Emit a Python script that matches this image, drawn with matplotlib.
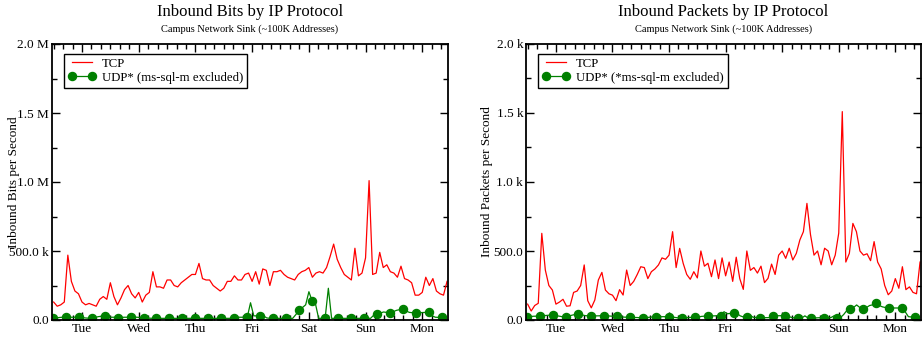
import numpy as np
import matplotlib
matplotlib.use("Agg")
import matplotlib.pyplot as plt
from matplotlib.ticker import MultipleLocator, FixedLocator

plt.rcParams['font.family'] = ['Liberation Serif', 'DejaVu Serif']

# ---------------- data ----------------
# hours relative to Tuesday 00:00
tcp_start, tcp_step = -12.0, 1.5
udp_start, udp_step = -12.4, 1.3725
day_labels = ["Tue", "Wed", "Thu", "Fri", "Sat", "Sun", "Mon"]

# Inbound bits per second, TCP (Mbit/s)
tcp_bits = [
    0.13, 0.10, 0.11, 0.13, 0.47, 0.28, 0.21, 0.19, 0.13, 0.11,
    0.12, 0.11, 0.10, 0.15, 0.17, 0.15, 0.27, 0.17, 0.11, 0.16,
    0.22, 0.25, 0.19, 0.16, 0.20, 0.13, 0.18, 0.20, 0.35, 0.24,
    0.24, 0.23, 0.29, 0.29, 0.25, 0.24, 0.27, 0.29, 0.31, 0.33,
    0.33, 0.41, 0.30, 0.29, 0.29, 0.25, 0.23, 0.21, 0.23, 0.28,
    0.28, 0.32, 0.29, 0.29, 0.33, 0.34, 0.28, 0.35, 0.26, 0.37,
    0.36, 0.25, 0.35, 0.35, 0.36, 0.33, 0.31, 0.30, 0.29, 0.33,
    0.35, 0.36, 0.38, 0.31, 0.34, 0.35, 0.34, 0.38, 0.46, 0.55,
    0.44, 0.38, 0.33, 0.31, 0.29, 0.52, 0.32, 0.34, 0.45, 1.01,
    0.33, 0.34, 0.49, 0.38, 0.40, 0.35, 0.34, 0.31, 0.39, 0.30,
    0.29, 0.27, 0.18, 0.18, 0.20, 0.31, 0.25, 0.30, 0.21, 0.19,
    0.18, 0.28,
]

# Inbound bits per second, UDP* (Mbit/s)
udp_bits = [
    0.012, 0.015, 0.018, 0.020, 0.021, 0.020, 0.020, 0.020,
    0.021, 0.018, 0.015, 0.013, 0.012, 0.018, 0.024, 0.027,
    0.029, 0.025, 0.020, 0.020, 0.018, 0.018, 0.020, 0.020,
    0.021, 0.020, 0.020, 0.018, 0.018, 0.015, 0.013, 0.012,
    0.012, 0.012, 0.012, 0.012, 0.012, 0.012, 0.012, 0.012,
    0.013, 0.012, 0.012, 0.012, 0.012, 0.012, 0.012, 0.012,
    0.012, 0.012, 0.012, 0.012, 0.012, 0.012, 0.012, 0.012,
    0.018, 0.020, 0.020, 0.020, 0.021, 0.125, 0.030, 0.030,
    0.030, 0.030, 0.015, 0.012, 0.012, 0.012, 0.012, 0.012,
    0.012, 0.012, 0.012, 0.040, 0.072, 0.090, 0.110, 0.205,
    0.138, 0.120, 0.012, 0.012, 0.012, 0.230, 0.012, 0.012,
    0.012, 0.012, 0.012, 0.012, 0.012, 0.012, 0.012, 0.012,
    0.012, 0.012, 0.012, 0.035, 0.043, 0.050, 0.058, 0.055,
    0.053, 0.060, 0.070, 0.075, 0.077, 0.065, 0.055, 0.053,
    0.053, 0.054, 0.054, 0.055, 0.055, 0.030, 0.020, 0.019,
    0.019, 0.019,
]

# Inbound packets per second, TCP
tcp_pkts = [
    115, 65, 105, 121, 628, 362, 250, 217, 115, 130,
    150, 100, 103, 200, 210, 250, 399, 140, 88, 145,
    290, 345, 217, 190, 180, 140, 220, 181, 362, 250,
    280, 330, 386, 380, 300, 350, 370, 399, 450, 440,
    470, 640, 380, 519, 410, 330, 295, 350, 305, 500,
    390, 411, 314, 435, 300, 450, 320, 420, 280, 455,
    300, 222, 500, 360, 380, 340, 390, 271, 302, 405,
    330, 470, 500, 447, 520, 435, 483, 580, 640, 845,
    620, 470, 500, 400, 520, 500, 400, 470, 630, 1510,
    420, 483, 700, 640, 500, 470, 480, 430, 568, 420,
    370, 250, 183, 210, 300, 230, 386, 220, 240, 200,
    190, 420,
]

# Inbound packets per second, UDP*
udp_pkts = [
    22, 25, 27, 28, 29, 31, 33, 35, 36, 32, 28, 24,
    22, 28, 35, 40, 43, 38, 32, 30, 29, 30, 30, 31,
    31, 30, 28, 27, 27, 24, 21, 20, 19, 18, 18, 17,
    17, 18, 20, 22, 22, 23, 24, 24, 24, 22, 18, 15,
    14, 16, 18, 19, 19, 22, 26, 28, 29, 30, 30, 31,
    31, 60, 45, 48, 48, 48, 30, 22, 22, 35, 20, 18,
    17, 17, 17, 17, 31, 31, 31, 31, 31, 25, 18, 14,
    14, 14, 30, 14, 14, 15, 16, 17, 17, 17, 17, 30,
    17, 17, 40, 70, 77, 90, 109, 90, 77, 90, 105, 110,
    121, 105, 95, 90, 87, 87, 87, 87, 87, 60, 24, 22,
    22, 22,
]

# ---------------- plotting ----------------
RED = "#ff0000"
GREEN = "#008000"

fig = plt.figure(figsize=(9.24, 3.40), dpi=100)

panels = [
    dict(rect=[52/924, 20/340, 396/924, 276/340], tcp=tcp_bits, udp=udp_bits,
         ymax=2.0, yticks=[0, 0.5, 1.0, 1.5, 2.0],
         ylabels=["0.0", "500.0 k", "1.0 M", "1.5 M", "2.0 M"],
         title="Inbound Bits by IP Protocol",
         ylab="Inbound Bits per Second",
         udp_label="UDP* (ms-sql-m excluded)", ylab_x=14/924),
    dict(rect=[526/924, 20/340, 395/924, 276/340], tcp=tcp_pkts, udp=udp_pkts,
         ymax=2000, yticks=[0, 500, 1000, 1500, 2000],
         ylabels=["0.0", "500.0", "1.0 k", "1.5 k", "2.0 k"],
         title="Inbound Packets by IP Protocol",
         ylab="Inbound Packets per Second",
         udp_label="UDP* (*ms-sql-m excluded)", ylab_x=487/924),
]

for p in panels:
    ax = fig.add_axes(p["rect"])
    t_tcp = tcp_start + tcp_step * np.arange(len(p["tcp"]))
    t_udp = udp_start + udp_step * np.arange(len(p["udp"]))
    ax.plot(t_tcp, p["tcp"], color=RED, lw=0.9, label="TCP")
    ax.plot(t_udp, p["udp"], color=GREEN, lw=0.9, marker="o", ms=5.8,
            markevery=4, label=p["udp_label"])
    ax.set_xlim(-12.7, 154.9)
    ax.set_ylim(0, p["ymax"])

    ax.xaxis.set_major_locator(FixedLocator([24 * i for i in range(7)]))
    ax.set_xticklabels(day_labels)
    ax.xaxis.set_minor_locator(MultipleLocator(4))
    ax.set_yticks(p["yticks"])
    ax.set_yticklabels(p["ylabels"])
    ax.yaxis.set_minor_locator(MultipleLocator(p["ymax"] / 8))

    ax.tick_params(which="both", direction="in", top=True, right=True,
                   labelsize=9.5, width=1.0, color="black", pad=2)
    ax.tick_params(which="major", length=6)
    ax.tick_params(which="minor", length=3.5)
    for s in ax.spines.values():
        s.set_linewidth(1.3)

    leg = ax.legend(loc="upper left", bbox_to_anchor=(0.03, 0.964),
                    borderaxespad=0, fontsize=9.2, fancybox=False,
                    framealpha=1, edgecolor="black", handlelength=2.2,
                    handletextpad=0.5, borderpad=0.3, labelspacing=0.15,
                    numpoints=2)
    leg.get_frame().set_linewidth(1.0)

    cx = p["rect"][0] + p["rect"][2] / 2
    fig.text(cx, 1 - 12/340, p["title"], ha="center", va="center", fontsize=12)
    fig.text(cx, 1 - 29/340, "Campus Network Sink (~100K Addresses)",
             ha="center", va="center", fontsize=7.5)
    fig.text(p["ylab_x"], 1 - 182/340, p["ylab"], rotation=90,
             ha="center", va="center", fontsize=9.5)

fig.savefig("out.png", dpi=100)
